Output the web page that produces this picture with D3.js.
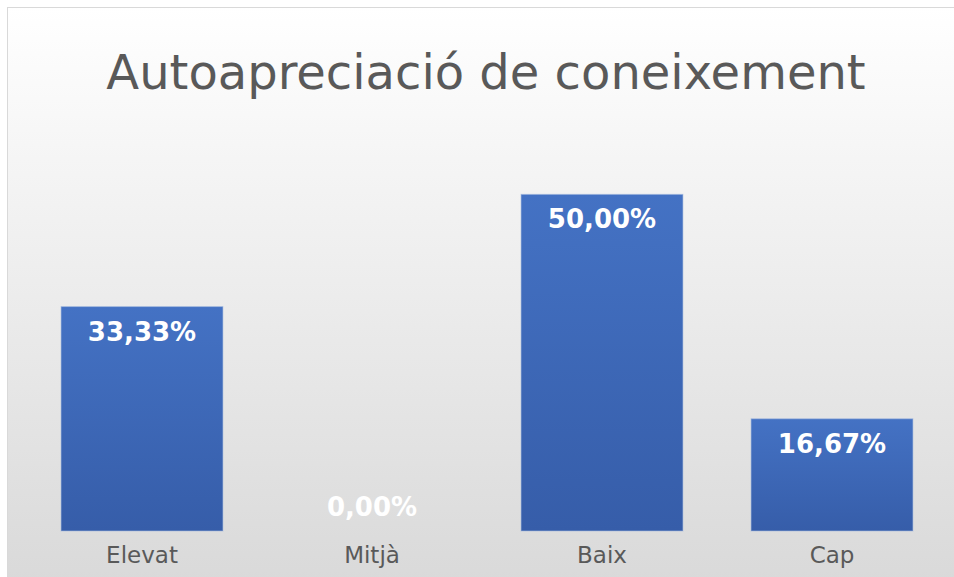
<!DOCTYPE html>
<html>
<head>
<meta charset="utf-8">
<script src="https://cdn.jsdelivr.net/npm/d3@7"></script>
<style>
  body { margin: 0; background: #fff; }
  svg { display: block; }
</style>
</head>
<body>
<script>
// chart data
const categories = ["Elevat", "Mitjà", "Baix", "Cap"];
const values = [33.33, 0, 50, 16.67];
const title = "Autoapreciació de coneixement";

window.onload = function() {
  const w = 954;
  const h = 577;

  let svg = d3.select("body")
            .append("svg")
            .attr("width", w)
            .attr("height", h);

  // gradients for background and bars
  let defs = svg.append("defs");
  let bg = defs.append("linearGradient")
            .attr("id", "bgGrad")
            .attr("x1", 0).attr("y1", 0).attr("x2", 0).attr("y2", 1);
  bg.append("stop").attr("offset", "0%").attr("stop-color", "#ffffff");
  bg.append("stop").attr("offset", "100%").attr("stop-color", "#d9d9d9");

  let barGrad = defs.append("linearGradient")
            .attr("id", "barGrad")
            .attr("x1", 0).attr("y1", 0).attr("x2", 0).attr("y2", 1);
  barGrad.append("stop").attr("offset", "0%").attr("stop-color", "#4472c4");
  barGrad.append("stop").attr("offset", "100%").attr("stop-color", "#365da9");

  // chart area with border
  svg.append("rect")
     .attr("x", 7.5)
     .attr("y", 7.5)
     .attr("width", w)
     .attr("height", h)
     .attr("fill", "url(#bgGrad)")
     .attr("stroke", "#d9d9d9")
     .attr("stroke-width", 1);

  // scales
  let xScale = d3.scaleBand()
            .domain(categories)
            .range([27, 947])
            .paddingInner(0.296)
            .paddingOuter(0.148);
  let yScale = d3.scaleLinear()
            .domain([0, 60])
            .range([531, 127]);

  let data = categories.map(function(c, i) { return {x: c, y: values[i]}; });

  // bars
  svg.selectAll(".bar")
     .data(data.filter(function(d) { return d.y > 0; }))
     .enter()
     .append("rect")
     .attr("class", "bar")
     .attr("x", function(d) { return xScale(d.x); })
     .attr("y", function(d) { return yScale(d.y); })
     .attr("width", xScale.bandwidth())
     .attr("height", function(d) { return yScale(0) - yScale(d.y); })
     .attr("fill", "url(#barGrad)")
     .attr("stroke", "#a9bde0")
     .attr("stroke-opacity", 0.6)
     .attr("stroke-width", 1);

  // data labels
  svg.selectAll(".label")
     .data(data)
     .enter()
     .append("text")
     .attr("class", "label")
     .attr("x", function(d) { return xScale(d.x) + xScale.bandwidth() / 2; })
     .attr("y", function(d) {
       return d.y > 0 ? yScale(d.y) + 34 : yScale(0) - 15;
     })
     .attr("text-anchor", "middle")
     .style("font-family", "DejaVu Sans")
     .style("font-weight", "bold")
     .style("font-size", "26px")
     .style("fill", "#ffffff")
     .text(function(d) { return d.y.toFixed(2).replace(".", ",") + "%"; });

  // x axis labels
  let xAxis = d3.axisBottom(xScale).tickSize(0).tickPadding(16);
  let gx = svg.append("g")
     .attr("transform", "translate(0,531)")
     .call(xAxis);
  gx.select(".domain").remove();
  gx.selectAll("text")
     .style("font-family", "DejaVu Sans")
     .style("font-size", "23px")
     .style("fill", "#595959");

  // title
  svg.append("text")
     .attr("x", 486)
     .attr("y", 89)
     .attr("text-anchor", "middle")
     .style("font-family", "DejaVu Sans")
     .style("font-size", "48px")
     .style("fill", "#595959")
     .text(title);
}
</script>
</body>
</html>
